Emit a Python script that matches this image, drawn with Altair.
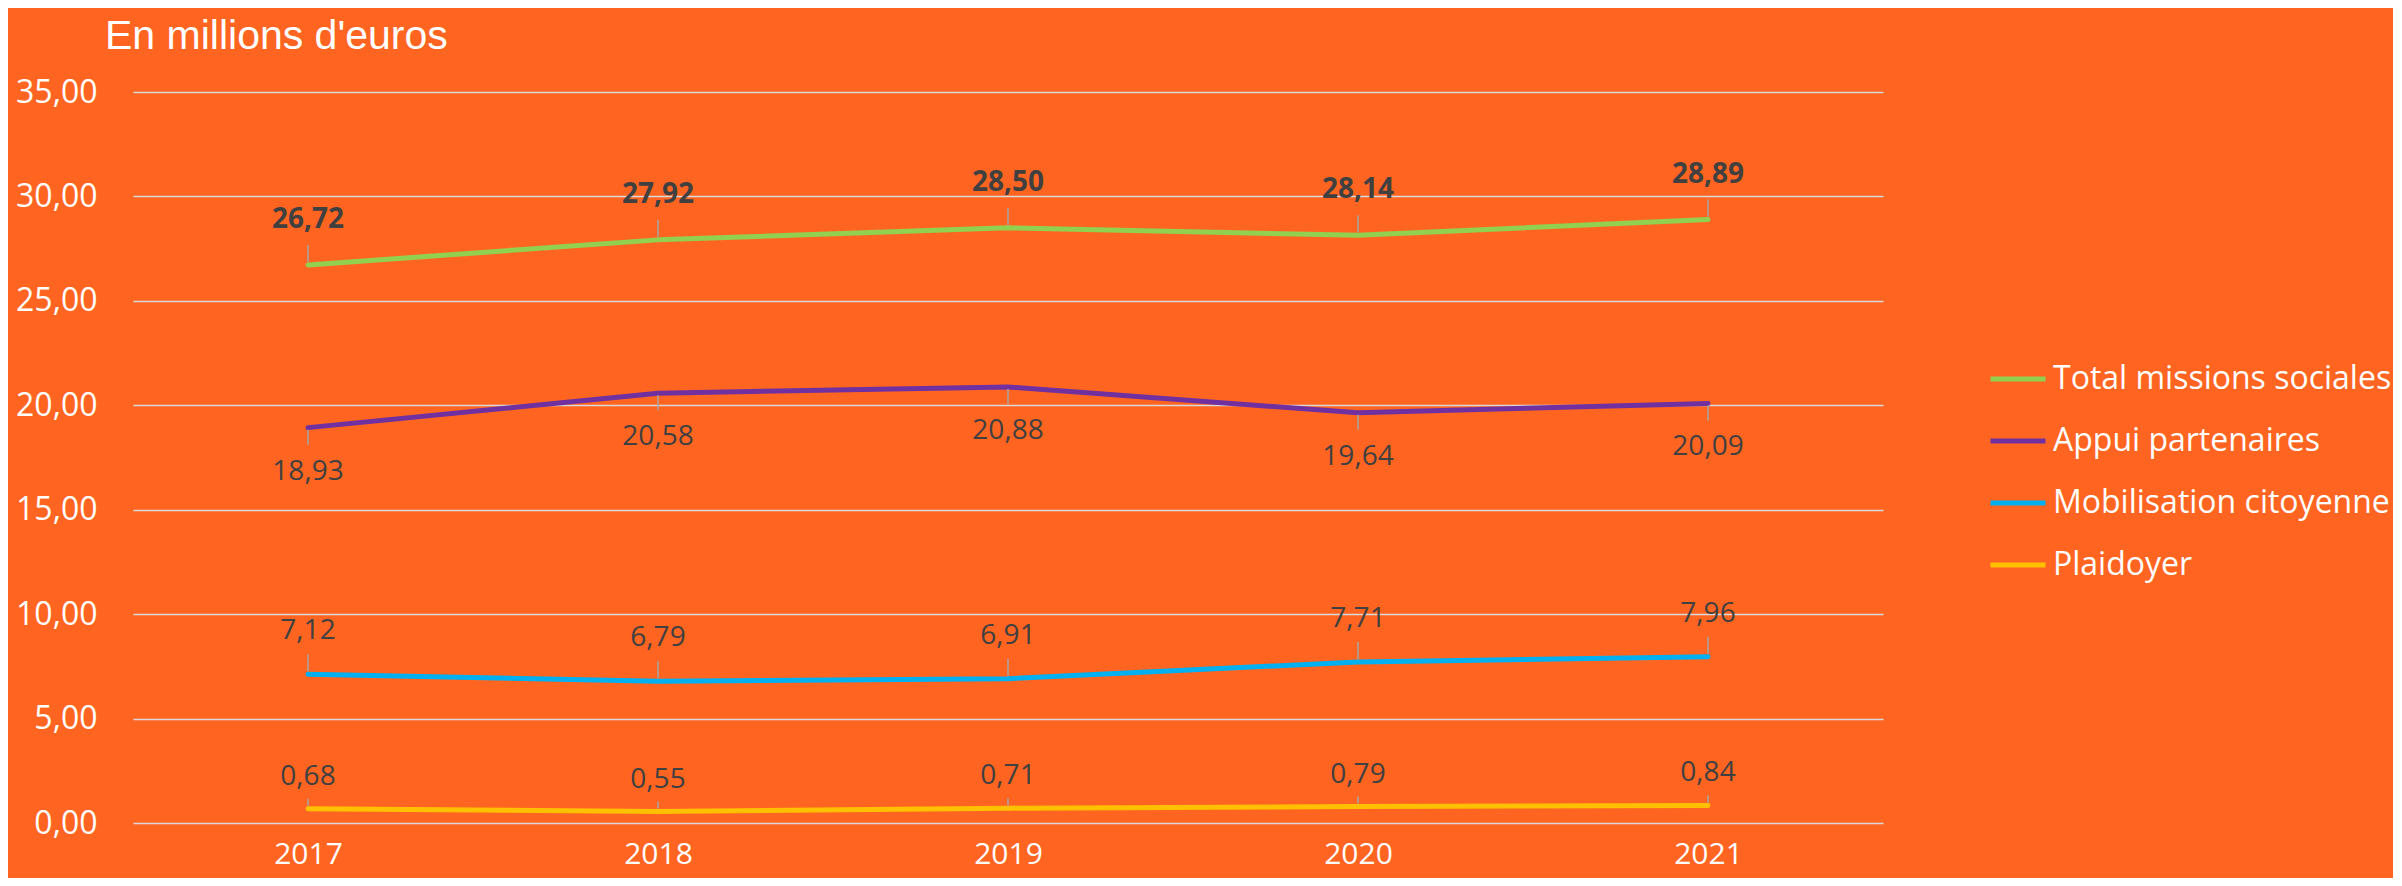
import altair as alt
import pandas as pd

years = [2017, 2018, 2019, 2020, 2021]
series = ["Total missions sociales", "Appui partenaires", "Mobilisation citoyenne", "Plaidoyer"]
total = [26.72, 27.92, 28.50, 28.14, 28.89]
appui = [18.93, 20.58, 20.88, 19.64, 20.09]
mobil = [7.12, 6.79, 6.91, 7.71, 7.96]
plaid = [0.68, 0.55, 0.71, 0.79, 0.84]
colors = ["#92D050", "#7030A0", "#00B0F0", "#FFC000"]
y_ticks = [0, 5, 10, 15, 20, 25, 30, 35]
title_text = "En millions d'euros"

rows = []
for s, vals in zip(series, [total, appui, mobil, plaid]):
    for yr, v in zip(years, vals):
        rows.append({"year": yr, "series": s, "value": v,
                     "label": f"{v:.2f}".replace(".", ",")})
df = pd.DataFrame(rows)

FONT = "Open Sans"
base = alt.Chart(df)

x_enc = alt.X("year:Q",
              scale=alt.Scale(domain=[2016.5, 2021.5], nice=False, zero=False),
              axis=alt.Axis(values=years, format="d", title=None, grid=False,
                            domain=False, ticks=False, labelColor="white",
                            labelFontSize=30, labelFont=FONT, labelPadding=16))
y_enc = alt.Y("value:Q",
              scale=alt.Scale(domain=[0, 35], nice=False),
              axis=alt.Axis(values=y_ticks,
                            labelExpr="replace(format(datum.value, '.2f'), '.', ',')",
                            title=None, grid=True, gridColor="#D9D9D9", gridWidth=1.5,
                            domain=False, ticks=False, labelColor="white",
                            labelFontSize=32, labelFont=FONT, labelPadding=36))

lines = base.mark_line(strokeWidth=5, strokeCap="round", strokeJoin="round").encode(
    x=x_enc, y=y_enc,
    color=alt.Color("series:N", sort=series,
                    scale=alt.Scale(domain=series, range=colors),
                    legend=alt.Legend(title=None, orient="none", legendX=1855, legendY=257,
                                      symbolType="stroke", symbolSize=3025,
                                      symbolStrokeWidth=5, labelFontSize=32,
                                      labelFont=FONT, labelColor="white",
                                      labelOffset=5, rowPadding=16, padding=0,
                                      labelLimit=600)),
)

label_cfg = {
    "Total missions sociales": dict(dy=-45, bold=True, r=(-3, -20)),
    "Appui partenaires": dict(dy=44, bold=False, r=(2, 17)),
    "Mobilisation citoyenne": dict(dy=-43, bold=False, r=(-3, -20)),
    "Plaidoyer": dict(dy=-32, bold=False, r=(-3, -10)),
}

layers = [lines]
for s in series:
    c = label_cfg[s]
    sub = base.transform_filter(alt.datum.series == s)
    layers.append(sub.mark_rule(color="#A6A6A6", strokeWidth=1.5,
                                yOffset=c["r"][0], y2Offset=c["r"][1]).encode(
        x=alt.X("year:Q"), y=alt.Y("value:Q"), y2=alt.Y2("value:Q")))
    layers.append(sub.mark_text(dy=c["dy"], fontSize=28, font=FONT, color="#404040",
                                fontWeight="bold" if c["bold"] else "normal").encode(
        x=alt.X("year:Q"), y=alt.Y("value:Q"), text="label:N"))

title_layer = alt.Chart(pd.DataFrame({"t": [title_text]})).mark_text(
    font="Liberation Sans", fontSize=41, color="white", align="left",
    baseline="alphabetic").encode(x=alt.value(-28), y=alt.value(-43), text="t:N")
layers.append(title_layer)

chart = alt.layer(*layers).properties(
    width=1750, height=731,
    autosize=alt.AutoSizeParams(type="none"),
    padding={"left": 125, "top": 84, "right": 510, "bottom": 55},
    background="#FF6521",
).configure_view(stroke=None)

chart.save("out.html", embed_options={"renderer": "svg", "actions": False})
